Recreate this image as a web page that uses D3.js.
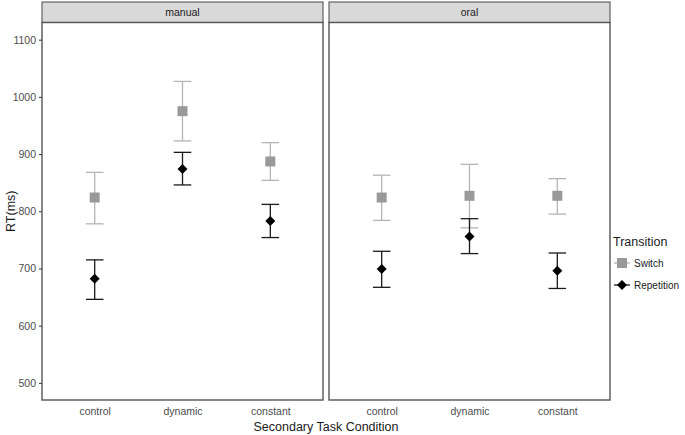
<!DOCTYPE html>
<html>
<head>
<meta charset="utf-8">
<script src="https://cdn.jsdelivr.net/npm/d3@7"></script>
<style>
  body { margin: 0; background: #fff; }
  svg { display: block; font-family: "Liberation Sans", Arial, sans-serif; }
</style>
</head>
<body>
<svg id="chart" width="685" height="435"></svg>
<script>
// ---- data ----
const panels = ["manual", "oral"];
const conditions = ["control", "dynamic", "constant"];
const transitions = ["Switch", "Repetition"];
const yTicks = [500, 600, 700, 800, 900, 1000, 1100];

// mean, lower, upper per panel x condition
const switchMean  = { manual: [824, 975, 887], oral: [824, 827, 827] };
const switchLow   = { manual: [778, 923, 854], oral: [784, 771, 795] };
const switchHigh  = { manual: [868, 1027, 920], oral: [863, 882, 857] };
const repMean     = { manual: [682, 874, 783], oral: [699, 756, 696] };
const repLow      = { manual: [646, 846, 754], oral: [667, 726, 665] };
const repHigh     = { manual: [715, 903, 812], oral: [730, 787, 727] };

(function () {
const svg = d3.select("#chart");
const pTop = 22.5, pBottom = 400, stripTop = 2;
const panelW = 281, gap = 6;
const panelLeft = [42, 42 + panelW + gap];

const y = d3.scaleLinear().domain([470, 1130]).range([pBottom, pTop]);
const x = d3.scalePoint().domain(conditions).range([0, panelW]).padding(0.6);
const capW = x.step() * 0.2;

const colors = {
  Switch: { bar: "#b5b5b5", pt: "#999999" },
  Repetition: { bar: "#1a1a1a", pt: "#000000" }
};

const square = d3.symbol().type(d3.symbolSquare).size(100);
const diamond = d3.symbol().type(d3.symbolSquare).size(50);
function markTransform(name, cx, cy) {
  return name === "Switch" ? `translate(${cx},${cy})` : `translate(${cx},${cy}) rotate(45)`;
}

panels.forEach((p, pi) => {
  const g = svg.append("g").attr("transform", `translate(${panelLeft[pi]},0)`);
  // strip
  g.append("rect").attr("x", 0).attr("y", stripTop).attr("width", panelW).attr("height", pTop - stripTop)
    .attr("fill", "#d9d9d9").attr("stroke", "#555").attr("stroke-width", 1.1);
  g.append("text").attr("x", panelW / 2).attr("y", 16).attr("text-anchor", "middle")
    .attr("font-size", 10.5).attr("fill", "#1a1a1a").text(p);
  // panel
  g.append("rect").attr("x", 0).attr("y", pTop).attr("width", panelW).attr("height", pBottom - pTop)
    .attr("fill", "#fff").attr("stroke", "#555").attr("stroke-width", 1.4);

  // x axis labels (no ticks)
  const xa = g.append("g").attr("transform", `translate(0,${pBottom})`)
    .call(d3.axisBottom(x).tickSize(0).tickPadding(8));
  xa.select(".domain").remove();
  xa.selectAll("text").attr("font-size", 10.5).attr("fill", "#4d4d4d")
    .attr("font-family", "Liberation Sans, Arial, sans-serif");

  const series = [
    { name: "Switch", m: switchMean[p], lo: switchLow[p], hi: switchHigh[p] },
    { name: "Repetition", m: repMean[p], lo: repLow[p], hi: repHigh[p] }
  ];
  series.forEach(s => {
    const c = colors[s.name];
    conditions.forEach((cond, i) => {
      const cx = x(cond);
      const eg = g.append("g").attr("stroke", c.bar).attr("stroke-width", 1.3).attr("fill", "none");
      eg.append("line").attr("x1", cx).attr("x2", cx).attr("y1", y(s.lo[i])).attr("y2", y(s.hi[i]));
      eg.append("line").attr("x1", cx - capW / 2).attr("x2", cx + capW / 2).attr("y1", y(s.lo[i])).attr("y2", y(s.lo[i]));
      eg.append("line").attr("x1", cx - capW / 2).attr("x2", cx + capW / 2).attr("y1", y(s.hi[i])).attr("y2", y(s.hi[i]));
    });
  });
  series.forEach(s => {
    const c = colors[s.name];
    conditions.forEach((cond, i) => {
      g.append("path")
        .attr("d", s.name === "Switch" ? square() : diamond())
        .attr("transform", markTransform(s.name, x(cond), y(s.m[i])))
        .attr("fill", c.pt);
    });
  });
});

// y axis on left panel
const ya = svg.append("g").attr("transform", `translate(${panelLeft[0]},0)`)
  .call(d3.axisLeft(y).tickValues(yTicks).tickFormat(d3.format("d")).tickSize(3).tickPadding(3));
ya.select(".domain").remove();
ya.selectAll(".tick line").attr("stroke", "#333");
ya.selectAll("text").attr("font-size", 10.5).attr("fill", "#4d4d4d")
  .attr("font-family", "Liberation Sans, Arial, sans-serif");

// axis titles
svg.append("text").attr("transform", `translate(15,${(pTop + pBottom) / 2}) rotate(-90)`)
  .attr("text-anchor", "middle").attr("font-size", 12.5).attr("fill", "#1a1a1a").text("RT(ms)");
svg.append("text").attr("x", (panelLeft[0] + panelLeft[1] + panelW) / 2).attr("y", 431)
  .attr("text-anchor", "middle").attr("font-size", 12.5).attr("fill", "#1a1a1a").text("Secondary Task Condition");

// legend
const lg = svg.append("g").attr("transform", "translate(613,0)");
lg.append("text").attr("x", 0).attr("y", 246).attr("font-size", 12.5).attr("fill", "#1a1a1a").text("Transition");
transitions.forEach((t, i) => {
  const cy = 263 + i * 22;
  const c = colors[t];
  lg.append("line").attr("x1", 1).attr("x2", 17).attr("y1", cy).attr("y2", cy)
    .attr("stroke", c.bar).attr("stroke-width", 1.3);
  lg.append("path").attr("d", t === "Switch" ? square() : diamond())
    .attr("transform", markTransform(t, 9, cy)).attr("fill", c.pt);
  lg.append("text").attr("x", 21).attr("y", cy + 3.5).attr("font-size", 10).attr("fill", "#1a1a1a").text(t);
});
})();
</script>
</body>
</html>
